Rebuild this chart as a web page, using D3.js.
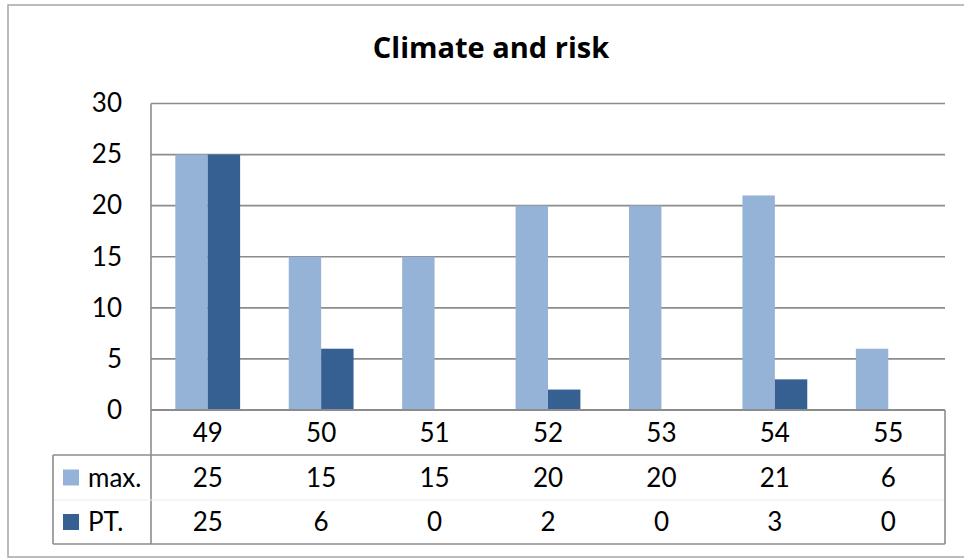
<!DOCTYPE html>
<html>
<head>
<meta charset="utf-8">
<script src="https://cdn.jsdelivr.net/npm/d3@7"></script>
<style>
  html, body { margin: 0; padding: 0; background: #fff; }
  svg { display: block; }
  text { fill: #000; }
</style>
</head>
<body>
<svg id="chart" width="964" height="558"></svg>
<script>
const title = "Climate and risk";
const categories = ["49", "50", "51", "52", "53", "54", "55"];
const seriesNames = ["max.", "PT."];
const maxValues = [25, 15, 15, 20, 20, 21, 6];
const ptValues = [25, 6, 0, 2, 0, 3, 0];
const yTicks = [0, 5, 10, 15, 20, 25, 30];
const seriesColors = ["#95B3D7", "#366092"];

const seriesValues = [maxValues, ptValues];

const svg = d3.select("#chart");
const plot = { left: 151, right: 945, top: 103.5, bottom: 410 };
const table = { left: 53, catBottom: 455, rowMid: 500, bottom: 544 };
const gridColor = "#8c8c8c";
const FS = 26;
const FONT = "Lato, 'Open Sans', sans-serif";

// outer chart border
svg.append("rect")
  .attr("x", 8).attr("y", 5).attr("width", 980).attr("height", 552)
  .attr("fill", "#fff").attr("stroke", "#a6a6a6").attr("stroke-width", 1.5);

// title
svg.append("text")
  .attr("x", 491).attr("y", 58)
  .attr("text-anchor", "middle")
  .style("font-family", "'Open Sans', sans-serif")
  .style("font-size", "29px").style("font-weight", "bold")
  .text(title);

const x = d3.scaleBand().domain(categories).range([plot.left, plot.right]).padding(0);
const xs = d3.scaleBand().domain(seriesNames).range([0, x.bandwidth()]).paddingInner(0).paddingOuter(0.75);
const y = d3.scaleLinear().domain([0, 30]).range([plot.bottom, plot.top]);

// gridlines
svg.append("g").selectAll("line").data(yTicks.filter(d => d > 0)).join("line")
  .attr("x1", plot.left).attr("x2", plot.right)
  .attr("y1", d => y(d)).attr("y2", d => y(d))
  .attr("stroke", gridColor).attr("stroke-width", 1.6);

// bars
const groups = svg.append("g").selectAll("g").data(categories).join("g")
  .attr("transform", d => `translate(${x(d)},0)`);
groups.selectAll("rect")
  .data((c, i) => seriesNames.map((s, k) => ({ s, k, v: seriesValues[k][i] })))
  .join("rect")
  .attr("x", d => xs(d.s))
  .attr("width", xs.bandwidth())
  .attr("y", d => y(d.v))
  .attr("height", d => y(0) - y(d.v))
  .attr("fill", d => seriesColors[d.k]);

// y axis labels
const yAxis = d3.axisLeft(y).tickValues(yTicks).tickSize(0).tickPadding(0);
const yg = svg.append("g").attr("transform", `translate(122,0)`).call(yAxis);
yg.select(".domain").remove();
yg.selectAll("text").style("font-size", FS + "px").style("font-family", FONT).attr("fill", "#000");

// x axis line (zero line) and plot left border
svg.append("line").attr("x1", plot.left).attr("x2", plot.right)
  .attr("y1", plot.bottom).attr("y2", plot.bottom)
  .attr("stroke", gridColor).attr("stroke-width", 1.8);
svg.append("line").attr("x1", plot.left).attr("x2", plot.left)
  .attr("y1", plot.top).attr("y2", table.bottom)
  .attr("stroke", gridColor).attr("stroke-width", 1.6);

// data table lines
svg.append("line").attr("x1", table.left).attr("x2", plot.right)
  .attr("y1", table.catBottom).attr("y2", table.catBottom)
  .attr("stroke", gridColor).attr("stroke-width", 1.6);
svg.append("line").attr("x1", table.left).attr("x2", plot.right)
  .attr("y1", table.rowMid).attr("y2", table.rowMid)
  .attr("stroke", "#ececec").attr("stroke-width", 1);
svg.append("line").attr("x1", table.left).attr("x2", plot.right)
  .attr("y1", table.bottom).attr("y2", table.bottom)
  .attr("stroke", gridColor).attr("stroke-width", 1.6);
svg.append("line").attr("x1", table.left).attr("x2", table.left)
  .attr("y1", table.catBottom).attr("y2", table.bottom)
  .attr("stroke", gridColor).attr("stroke-width", 1.6);
svg.append("line").attr("x1", plot.right).attr("x2", plot.right)
  .attr("y1", plot.bottom).attr("y2", table.bottom)
  .attr("stroke", gridColor).attr("stroke-width", 1.6);

// category labels (x axis)
const xAxis = d3.axisBottom(x).tickSize(0).tickPadding(0);
const xg = svg.append("g").attr("transform", `translate(0,${(plot.bottom + table.catBottom) / 2})`).call(xAxis);
xg.select(".domain").remove();
xg.selectAll("text").style("font-size", FS + "px").style("font-family", FONT).attr("fill", "#000")
  .attr("dy", "0.35em").attr("y", 0);

// data rows
const rowCenters = [(table.catBottom + table.rowMid) / 2, (table.rowMid + table.bottom) / 2];
seriesNames.forEach((s, k) => {
  const cy = rowCenters[k];
  svg.append("rect").attr("x", 63).attr("y", cy - 8).attr("width", 16).attr("height", 16)
    .attr("fill", seriesColors[k]);
  svg.append("text").attr("x", 88).attr("y", cy).attr("dy", "0.35em")
    .style("font-size", FS + "px").style("font-family", FONT).text(s);
  svg.append("g").selectAll("text").data(categories).join("text")
    .attr("x", d => x(d) + x.bandwidth() / 2)
    .attr("y", cy).attr("dy", "0.35em")
    .attr("text-anchor", "middle")
    .style("font-size", FS + "px").style("font-family", FONT)
    .text((d, i) => seriesValues[k][i]);
});
</script>
</body>
</html>
